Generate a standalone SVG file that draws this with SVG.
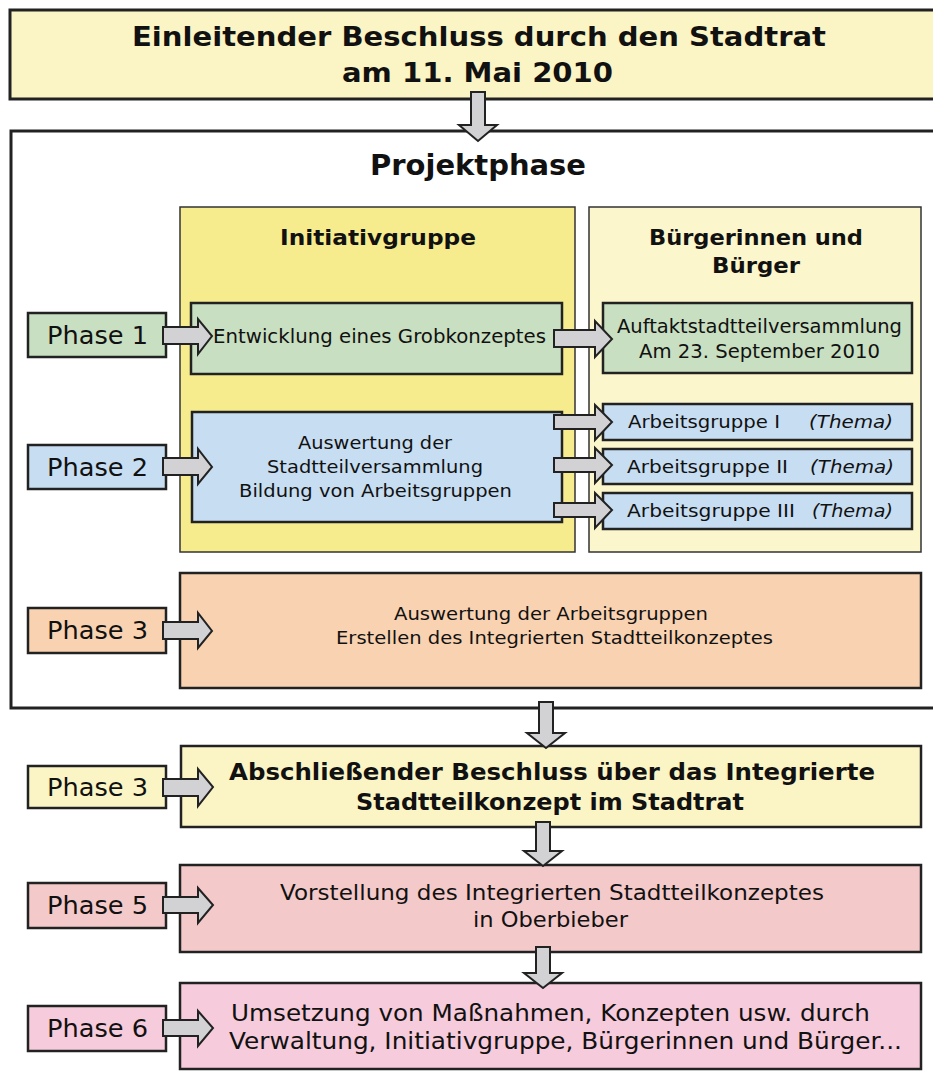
<svg xmlns="http://www.w3.org/2000/svg" width="933" height="1072" viewBox="0 0 933 1072">
<style>
text{font-family:"DejaVu Sans","Verdana",sans-serif;fill:#111}
.b{font-weight:bold}
.box{stroke:#222;stroke-width:2.5}
.col{stroke:#333;stroke-width:1.5}
.arr{fill:#d2d2d5;stroke:#222;stroke-width:2;stroke-linejoin:miter}
.green{fill:#c9dfc1}
.blue{fill:#c7ddf1}
.orange{fill:#f9d3b1}
.lyellow{fill:#fbf5c6}
.pink{fill:#f4c9c9}
.mag{fill:#f6cbdb}
.it{font-style:italic}
</style>
<rect width="933" height="1072" fill="#ffffff"/>

<g id="top">
<rect x="10" y="10" width="935" height="89" fill="#fbf4c4" stroke="#222" stroke-width="3"/>
<text class="b" x="132" y="46" font-size="27" textLength="694" lengthAdjust="spacingAndGlyphs">Einleitender Beschluss durch den Stadtrat</text>
<text class="b" x="342" y="82" font-size="27" textLength="271" lengthAdjust="spacingAndGlyphs">am 11. Mai 2010</text>
</g>

<g id="projektphase">
<rect x="11" y="131" width="935" height="577" fill="#ffffff" stroke="#222" stroke-width="3"/>
<text class="b" x="370" y="175" font-size="28" textLength="216" lengthAdjust="spacingAndGlyphs">Projektphase</text>
</g>

<g id="initiativgruppe">
<rect class="col" x="180" y="207" width="395" height="345" fill="#f6ec8e"/>
<text class="b" x="280" y="245" font-size="21" textLength="196" lengthAdjust="spacingAndGlyphs">Initiativgruppe</text>
</g>

<g id="buerger">
<rect class="col" x="589" y="207" width="332" height="345" fill="#fcf6cc"/>
<text class="b" x="649" y="245" font-size="21" textLength="214" lengthAdjust="spacingAndGlyphs">Bürgerinnen und</text>
<text class="b" x="756" y="273" font-size="21" text-anchor="middle" textLength="88" lengthAdjust="spacingAndGlyphs">Bürger</text>
</g>

<g id="phase1">
<rect class="box green" x="28" y="313" width="138" height="44"/>
<text x="47" y="344" font-size="24" textLength="101" lengthAdjust="spacingAndGlyphs">Phase 1</text>
</g>

<g id="grobkonzept">
<rect class="box green" x="191" y="303" width="371" height="71"/>
<text x="213" y="343" font-size="19" textLength="333" lengthAdjust="spacingAndGlyphs">Entwicklung eines Grobkonzeptes</text>
</g>

<g id="auftakt">
<rect class="box green" x="603" y="303" width="309" height="70"/>
<text x="617" y="333" font-size="19" textLength="285" lengthAdjust="spacingAndGlyphs">Auftaktstadtteilversammlung</text>
<text x="639" y="358" font-size="19" textLength="241" lengthAdjust="spacingAndGlyphs">Am 23. September 2010</text>
</g>

<g id="phase2">
<rect class="box blue" x="28" y="445" width="138" height="44"/>
<text x="47" y="476" font-size="24" textLength="101" lengthAdjust="spacingAndGlyphs">Phase 2</text>
</g>

<g id="auswertung">
<rect class="box blue" x="192" y="412" width="370" height="110"/>
<text x="298" y="449" font-size="18" textLength="154" lengthAdjust="spacingAndGlyphs">Auswertung der</text>
<text x="267" y="473" font-size="18" textLength="216" lengthAdjust="spacingAndGlyphs">Stadtteilversammlung</text>
<text x="239" y="497" font-size="18" textLength="273" lengthAdjust="spacingAndGlyphs">Bildung von Arbeitsgruppen</text>
</g>

<g id="ag1">
<rect class="box blue" x="603" y="404" width="309" height="36"/>
<text x="628" y="428" font-size="18" textLength="152" lengthAdjust="spacingAndGlyphs">Arbeitsgruppe I</text>
<text class="it" x="809" y="428" font-size="18" textLength="84" lengthAdjust="spacingAndGlyphs">(Thema)</text>
</g>

<g id="ag2">
<rect class="box blue" x="603" y="449" width="309" height="35"/>
<text x="627" y="473" font-size="18" textLength="161" lengthAdjust="spacingAndGlyphs">Arbeitsgruppe II</text>
<text class="it" x="810" y="473" font-size="18" textLength="84" lengthAdjust="spacingAndGlyphs">(Thema)</text>
</g>

<g id="ag3">
<rect class="box blue" x="603" y="493" width="309" height="36"/>
<text x="627" y="517" font-size="18" textLength="168" lengthAdjust="spacingAndGlyphs">Arbeitsgruppe III</text>
<text class="it" x="812" y="517" font-size="18" textLength="81" lengthAdjust="spacingAndGlyphs">(Thema)</text>
</g>

<g id="phase3a">
<rect class="box orange" x="28" y="608" width="138" height="45"/>
<text x="47" y="639" font-size="24" textLength="101" lengthAdjust="spacingAndGlyphs">Phase 3</text>
</g>

<g id="konzept">
<rect class="box orange" x="180" y="573" width="741" height="115"/>
<text x="394" y="620" font-size="18" textLength="314" lengthAdjust="spacingAndGlyphs">Auswertung der Arbeitsgruppen</text>
<text x="336" y="644" font-size="18" textLength="437" lengthAdjust="spacingAndGlyphs">Erstellen des Integrierten Stadtteilkonzeptes</text>
</g>

<g id="phase3b">
<rect class="box lyellow" x="28" y="766" width="138" height="42"/>
<text x="47" y="796" font-size="24" textLength="101" lengthAdjust="spacingAndGlyphs">Phase 3</text>
</g>

<g id="beschluss">
<rect class="box lyellow" x="181" y="746" width="740" height="81"/>
<text class="b" x="229" y="780" font-size="23" textLength="646" lengthAdjust="spacingAndGlyphs">Abschließender Beschluss über das Integrierte</text>
<text class="b" x="356" y="810" font-size="23" textLength="388" lengthAdjust="spacingAndGlyphs">Stadtteilkonzept im Stadtrat</text>
</g>

<g id="phase5">
<rect class="box pink" x="28" y="883" width="138" height="45"/>
<text x="47" y="914" font-size="24" textLength="101" lengthAdjust="spacingAndGlyphs">Phase 5</text>
</g>

<g id="vorstellung">
<rect class="box pink" x="180" y="865" width="741" height="87"/>
<text x="280" y="900" font-size="21" textLength="544" lengthAdjust="spacingAndGlyphs">Vorstellung des Integrierten Stadtteilkonzeptes</text>
<text x="473" y="927" font-size="21" textLength="155" lengthAdjust="spacingAndGlyphs">in Oberbieber</text>
</g>

<g id="phase6">
<rect class="box mag" x="28" y="1006" width="138" height="45"/>
<text x="47" y="1037" font-size="24" textLength="101" lengthAdjust="spacingAndGlyphs">Phase 6</text>
</g>

<g id="umsetzung">
<rect class="box mag" x="180" y="983" width="741" height="86"/>
<text x="231" y="1021" font-size="23" textLength="639" lengthAdjust="spacingAndGlyphs">Umsetzung von Maßnahmen, Konzepten usw. durch</text>
<text x="229" y="1049" font-size="23" textLength="673" lengthAdjust="spacingAndGlyphs">Verwaltung, Initiativgruppe, Bürgerinnen und Bürger...</text>
</g>

<g id="connectors">
<!-- down arrows -->
<path class="arr" d="M471,92 L485,92 L485,125 L497,125 L478,141 L459,125 L471,125 Z"/>
<path class="arr" d="M539,702 L553,702 L553,733 L565,733 L546,748 L527,733 L539,733 Z"/>
<path class="arr" d="M536,822 L550,822 L550,851 L562,851 L543,866 L524,851 L536,851 Z"/>
<path class="arr" d="M536,947 L550,947 L550,973 L562,973 L543,988 L524,973 L536,973 Z"/>
<!-- phase arrows -->
<path class="arr" d="M163,327 L198,327 L198,319 L212,336 L198,354 L198,344 L163,344 Z"/>
<path class="arr" d="M163,458 L198,458 L198,449 L212,467 L198,484 L198,475 L163,475 Z"/>
<path class="arr" d="M163,622 L198,622 L198,613 L212,631 L198,648 L198,639 L163,639 Z"/>
<path class="arr" d="M163,779 L198,779 L198,769 L213,787 L198,806 L198,796 L163,796 Z"/>
<path class="arr" d="M163,897 L198,897 L198,888 L213,905 L198,923 L198,913 L163,913 Z"/>
<path class="arr" d="M163,1020 L198,1020 L198,1011 L213,1028 L198,1046 L198,1036 L163,1036 Z"/>
<!-- column arrows -->
<path class="arr" d="M554,330 L595,330 L595,321 L612,339 L595,357 L595,347 L554,347 Z"/>
<path class="arr" d="M554,415 L595,415 L595,405 L612,422 L595,440 L595,429 L554,429 Z"/>
<path class="arr" d="M554,458 L595,458 L595,448 L612,465 L595,483 L595,472 L554,472 Z"/>
<path class="arr" d="M554,503 L595,503 L595,493 L612,510 L595,528 L595,517 L554,517 Z"/>
</g>
</svg>
